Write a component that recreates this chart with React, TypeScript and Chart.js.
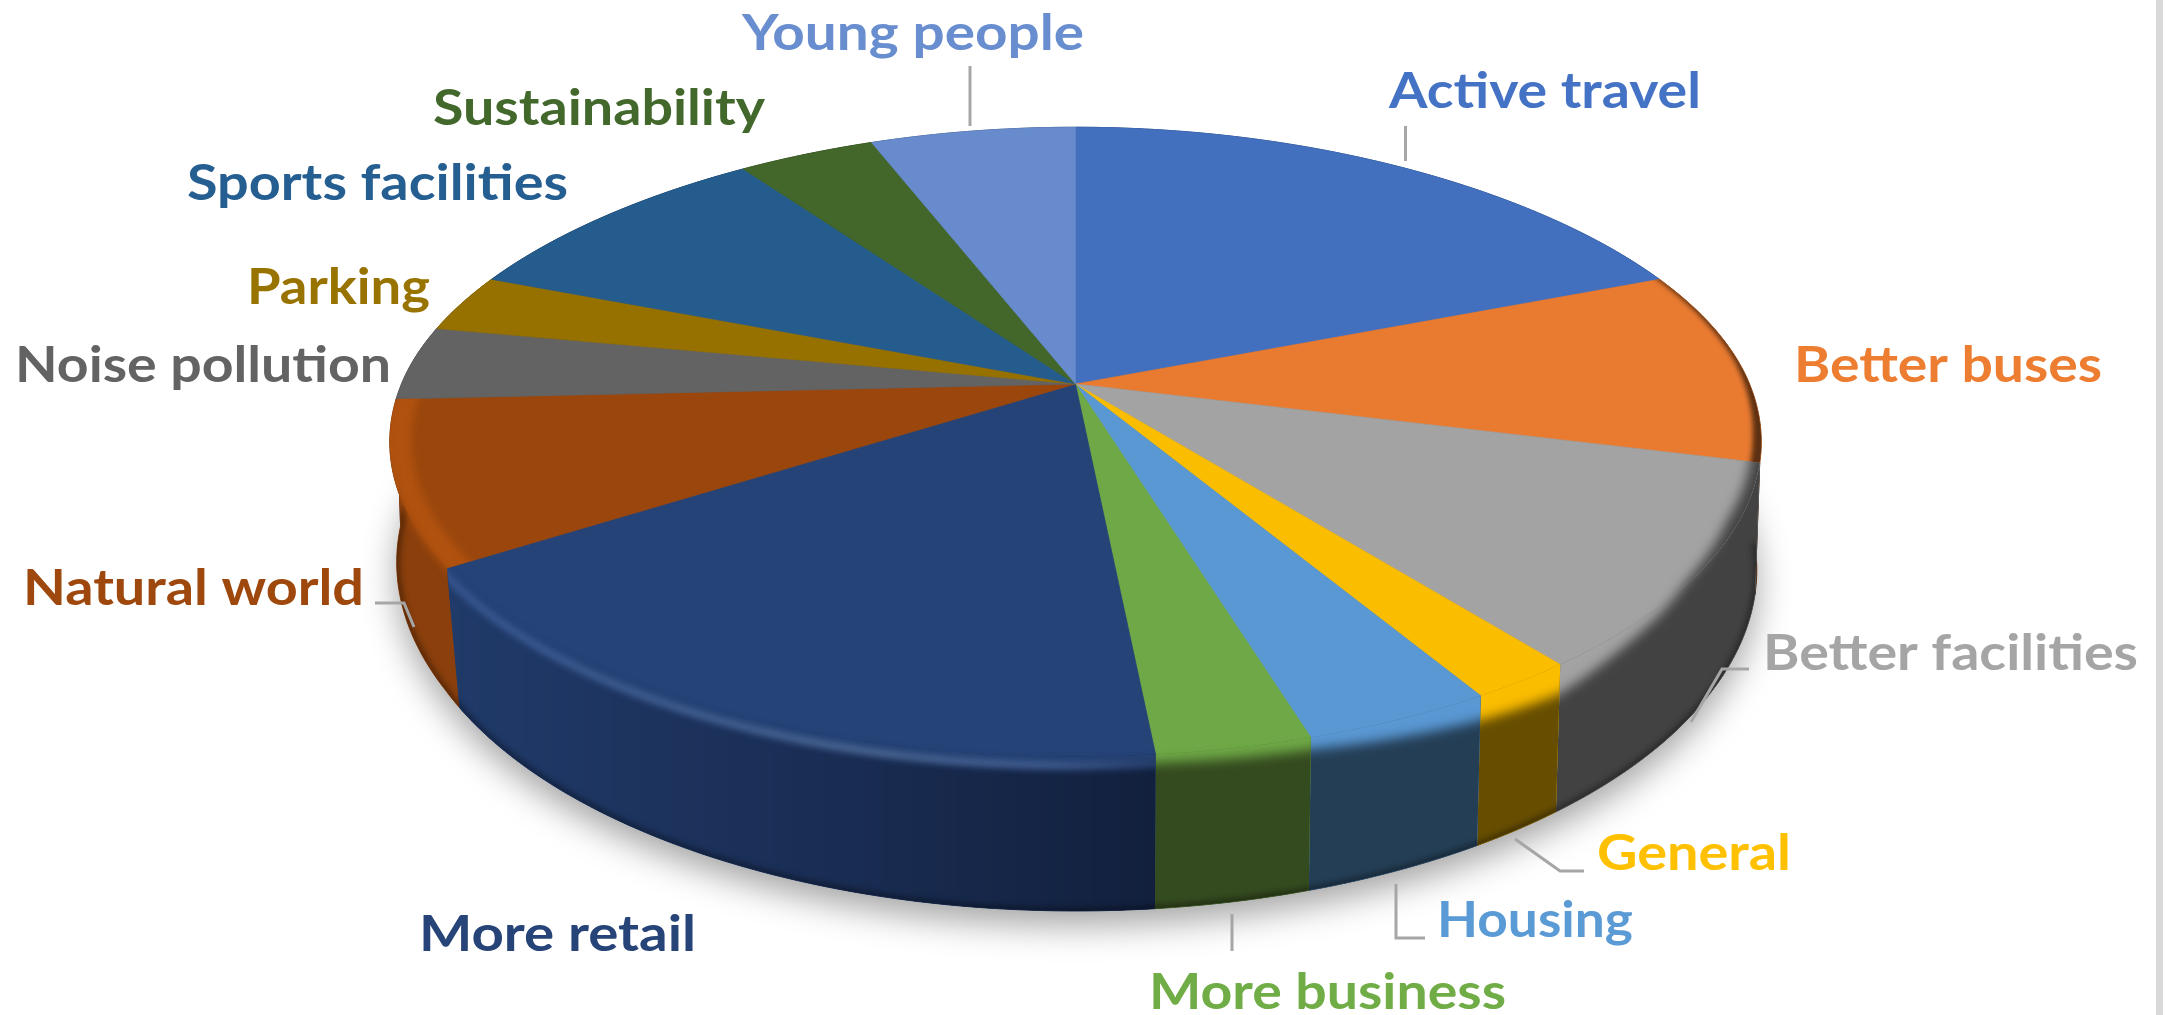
import React, { useEffect, useRef } from "react";
import { Chart, registerables } from "chart.js";

Chart.register(...registerables);

const categories = ["Active travel", "Better buses", "Better facilities", "General", "Housing", "More business", "More retail", "Natural world", "Noise pollution", "Parking", "Sports facilities", "Sustainability", "Young people"];
const shares = [19.0, 10.0, 10.5, 2.1, 3.8, 3.1, 17.4, 8.4, 3.8, 3.0, 9.3, 3.9, 5.8];
const topColors = ["#4270be", "#e97b31", "#a3a3a3", "#fbbd00", "#5a98d4", "#6fa947", "#254377", "#9a460d", "#636363", "#967100", "#255c8e", "#43662a", "#678bcd"];
const wallColors = ["#2a4780", "#5c3012", "#424242", "#664d00", "#243e55", "#344a1f", "#1a2f57", "#8a3f0c", "#444444", "#614a00", "#183c5c", "#2b421b", "#425a85"];
const labelColors = ["#4472c4", "#ed7d31", "#a5a5a5", "#ffc000", "#5b9bd5", "#70ad47", "#264478", "#9e480e", "#636363", "#997300", "#255e91", "#43682b", "#698ed0"];

// label layout: left x, baseline y, target width
const labelBoxes = [
  [1389, 108, 312], [1794, 382, 308], [1763, 670, 375], [1597, 870, 194], [1437, 937, 196],
  [1149, 1009, 357], [419, 951, 277], [23, 605, 341], [15, 382, 376], [247, 304, 183],
  [187, 200, 381], [433, 125, 332], [742, 50, 342],
];
const leaderLines = [
  [[970, 66], [970, 126]],
  [[1405.5, 126], [1405.5, 161]],
  [[375, 603], [404, 603], [414, 627]],
  [[1749, 669], [1722, 669], [1691, 722]],
  [[1515, 839], [1560, 871], [1584, 871]],
  [[1396, 884], [1396, 938], [1425, 938]],
  [[1232, 914], [1232, 951]],
];

const CX = 1075.5, CY = 384, A = 674, B = 304, K = 0.184, H = 126;
const STEP = Math.PI / 180;
const RETAIL = 6, NATURAL = 7, BUSES = 1;
const shadedSlices = [1, 2, 3, 4, 5, 6];
// where the soft edge between top face and wall runs (degrees clockwise from top)
const edgeOffset = [[60, 0], [125, 0], [135, 14], [142, 25], [149, 21], [163, 10], [174, 7], [200, 8], [237, 8], [260, 0]];
const edgeRadius = [[60, 0.998], [85, 0.995], [100, 0.988], [115, 0.985], [130, 1], [260, 1]];

const lookup = (table: number[][], t: number) => {
  const d = (t * 180) / Math.PI;
  if (d <= table[0][0]) return table[0][1];
  for (let i = 1; i < table.length; i++) {
    if (d <= table[i][0]) {
      const [x0, y0] = table[i - 1];
      const [x1, y1] = table[i];
      return y0 + ((y1 - y0) * (d - x0)) / (x1 - x0);
    }
  }
  return table[table.length - 1][1];
};

const topPt = (t: number, r = 1, dy = 0): [number, number] => {
  const su = Math.sin(t), sv = -Math.cos(t);
  const rr = r * (sv < 0 ? 1 - 0.04 * su * su * sv * sv : 1);
  const u = rr * su, v = rr * sv, w = 1 - K * v;
  return [CX + (A * u) / w, CY + (B * v + dy) / w];
};
const basePt = (t: number): [number, number] => {
  const u = Math.sin(t), v = -Math.cos(t), w = 1 - K * v;
  const pull = u < 0 ? 0.015 : 0.004;
  const s = 0.995 - pull * Math.min(1, Math.max(0, v / 0.5));
  return [CX + (s * A * u) / w, CY + (B * v + H) / w];
};
const edgePt = (t: number) => topPt(t, lookup(edgeRadius, t), lookup(edgeOffset, t));
const farPt = (t: number) => topPt(t, 1.5, 200);
const arcPts = (a: number, b: number, f: (t: number) => [number, number]) => {
  const n = Math.max(2, Math.ceil((b - a) / STEP));
  const out: [number, number][] = [];
  for (let i = 0; i <= n; i++) out.push(f(a + ((b - a) * i) / n));
  return out;
};
const trace = (ctx: CanvasRenderingContext2D, pts: [number, number][], close = true) => {
  ctx.beginPath();
  pts.forEach((p, i) => (i ? ctx.lineTo(p[0], p[1]) : ctx.moveTo(p[0], p[1])));
  if (close) ctx.closePath();
};

const projectedPie = {
  id: "projectedPie",
  beforeDatasetsDraw(chart: any) {
    const ctx: CanvasRenderingContext2D = chart.ctx;
    const arcs = chart.getDatasetMeta(0).data.map((el: any, i: number) => ({
      i,
      a: el.startAngle + Math.PI / 2,
      b: el.endAngle + Math.PI / 2,
    }));
    ctx.save();
    ctx.fillStyle = "#ffffff";
    ctx.fillRect(0, 0, 2167, 1015);

    // soft ground shadow
    ctx.save();
    ctx.shadowColor = "rgba(0,0,0,0.36)";
    ctx.shadowBlur = 34;
    ctx.shadowOffsetY = 14;
    ctx.fillStyle = "#555";
    trace(ctx, arcPts(0, Math.PI * 2, (t) => basePt(t)));
    ctx.fill();
    ctx.restore();

    const wallPoly = (s: any) => [
      ...arcPts(s.a, s.b, (t) => topPt(t)),
      ...arcPts(s.a, s.b, (t) => basePt(t)).reverse(),
    ];
    const facePoly = (s: any) => [[CX, CY] as [number, number], ...arcPts(s.a, s.b, (t) => topPt(t))];
    const wallFill = (i: number): any => {
      if (i !== RETAIL) return wallColors[i];
      const g = ctx.createLinearGradient(450, 0, 1155, 0);
      g.addColorStop(0, "#203a69");
      g.addColorStop(0.5, "#1a2e55");
      g.addColorStop(1, "#12203d");
      return g;
    };

    // walls, far to near
    const sorted = [...arcs].sort((p: any, q: any) => -Math.cos((p.a + p.b) / 2) + Math.cos((q.a + q.b) / 2));
    sorted.forEach((s: any) => {
      const fill = wallFill(s.i);
      ctx.fillStyle = fill;
      ctx.strokeStyle = fill;
      ctx.lineWidth = 1;
      trace(ctx, wallPoly(s));
      ctx.fill();
      ctx.stroke();
    });

    // top faces
    arcs.forEach((s: any) => {
      ctx.fillStyle = topColors[s.i];
      ctx.strokeStyle = topColors[s.i];
      ctx.lineWidth = 0.6;
      trace(ctx, facePoly(s));
      ctx.fill();
      ctx.stroke();
    });

    // soft rounded edge between the top colour and the wall colour
    shadedSlices.forEach((i) => {
      const s = arcs[i];
      const m = 0.12;
      const region = [...arcPts(s.a - m, s.b + m, edgePt), ...arcPts(s.a - m, s.b + m, farPt).reverse()];
      const polys = i === BUSES ? [facePoly(s)] : [facePoly(s), wallPoly(s)];
      polys.forEach((poly, pass) => {
        ctx.save();
        trace(ctx, poly);
        ctx.clip();
        if (pass === 1) {
          ctx.fillStyle = topColors[i];
          ctx.fillRect(0, 0, 2167, 1015);
        }
        ctx.filter = i === BUSES ? "blur(2.5px)" : "blur(6px)";
        ctx.fillStyle = wallFill(i);
        trace(ctx, region);
        ctx.fill();
        ctx.restore();
      });
    });

    // dark fringe along the bottom edge of the walls
    arcs.forEach((s: any) => {
      ctx.save();
      trace(ctx, wallPoly(s));
      ctx.clip();
      ctx.filter = "blur(3px)";
      ctx.strokeStyle = "rgba(0,0,0,0.5)";
      ctx.lineWidth = 5;
      trace(ctx, arcPts(s.a - 0.15, s.b + 0.15, (t) => basePt(t)), false);
      if (-Math.cos((s.a + s.b) / 2) > 0.1) ctx.stroke();
      ctx.restore();
    });

    // natural-world highlight band
    {
      const s = arcs[NATURAL];
      [facePoly(s), wallPoly(s)].forEach((poly) => {
        ctx.save();
        trace(ctx, poly);
        ctx.clip();
        ctx.filter = "blur(4px)";
        ctx.strokeStyle = "#b1520f";
        ctx.lineWidth = 22;
        trace(ctx, arcPts(s.a - 0.1, s.b + 0.1, (t) => topPt(t, 0.985)), false);
        ctx.stroke();
        ctx.restore();
      });
    }

    // more-retail highlight line
    {
      const s = arcs[RETAIL];
      [facePoly(s), wallPoly(s)].forEach((poly) => {
        ctx.save();
        trace(ctx, poly);
        ctx.clip();
        const g = ctx.createLinearGradient(450, 0, 1155, 0);
        g.addColorStop(0, "#3d5d98");
        g.addColorStop(0.6, "#56739f");
        g.addColorStop(0.85, "#4a689f");
        g.addColorStop(1, "#2b4575");
        ctx.strokeStyle = g;
        ctx.lineWidth = 6;
        ctx.filter = "blur(3.5px)";
        trace(ctx, arcPts(s.a - 0.15, s.b + 0.15, edgePt), false);
        ctx.stroke();
        ctx.restore();
      });
    }

    // leader lines
    ctx.strokeStyle = "#a6a6a6";
    ctx.lineWidth = 3;
    ctx.lineJoin = "miter";
    leaderLines.forEach((l) => {
      trace(ctx, l as [number, number][], false);
      ctx.stroke();
    });

    // labels
    ctx.font = "700 50px Lato";
    ctx.textBaseline = "alphabetic";
    chart.data.labels.forEach((txt: string, i: number) => {
      const [x, y, w] = labelBoxes[i];
      const m = ctx.measureText(txt).width;
      ctx.save();
      ctx.translate(x, y);
      ctx.scale(w / m, 1);
      ctx.fillStyle = labelColors[i];
      ctx.fillText(txt, 0, 0);
      ctx.restore();
    });
    ctx.restore();
    return false;
  },
};

export default function App() {
  const ref = useRef<HTMLCanvasElement | null>(null);
  useEffect(() => {
    const chart = new Chart(ref.current as HTMLCanvasElement, {
      type: "pie",
      data: {
        labels: categories,
        datasets: [{ data: shares, backgroundColor: topColors, borderWidth: 0 }],
      },
      options: {
        responsive: false,
        animation: false,
        plugins: { legend: { display: false }, tooltip: { enabled: false } },
      },
      plugins: [projectedPie],
    } as any);
    return () => chart.destroy();
  }, []);
  return (
    <div style={{ position: "fixed", left: 0, top: 0, width: 2167, height: 1015, background: "#fff", overflow: "hidden" }}>
      <canvas ref={ref} width={2167} height={1015} style={{ display: "block", filter: "blur(0.7px)" }} />
      <div style={{ position: "absolute", left: 2156, top: 0, width: 7, height: 1015, background: "#d9d9d9" }} />
    </div>
  );
}
